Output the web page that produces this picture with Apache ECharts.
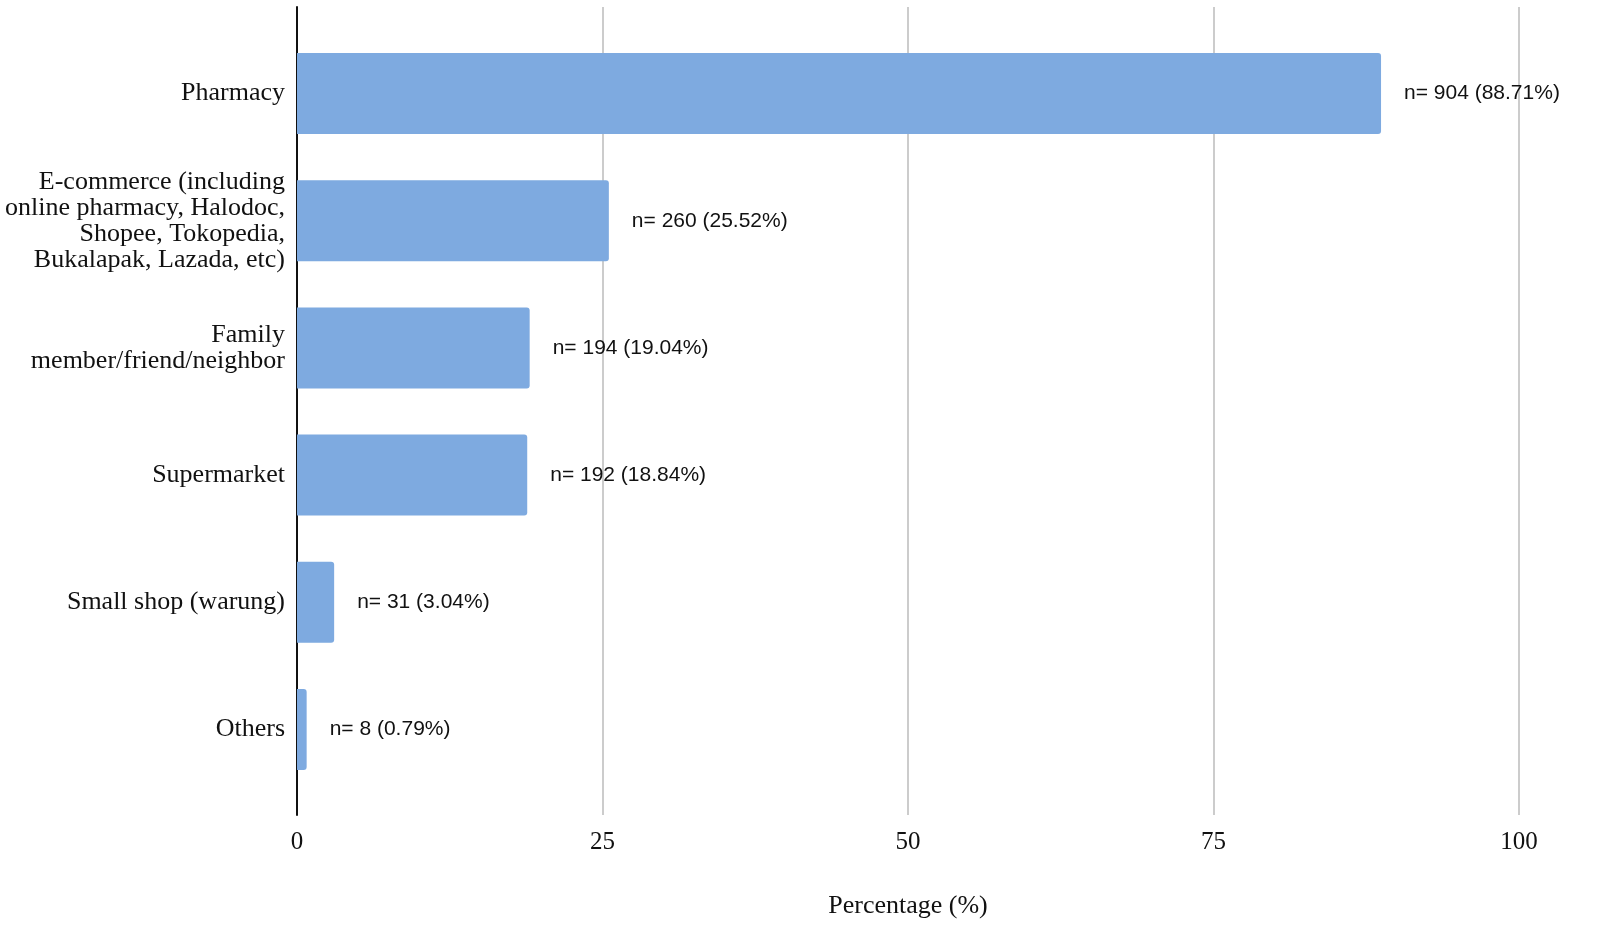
<!DOCTYPE html>
<html>
<head>
<meta charset="utf-8">
<script src="https://cdn.jsdelivr.net/npm/echarts@6/dist/echarts.min.js"></script>
<style>html,body{margin:0;padding:0;background:#fff;}#c{width:1600px;height:943px;}</style>
</head>
<body>
<div id="c"></div>
<script>
const categories = [
  "Pharmacy",
  "E-commerce (including\nonline pharmacy, Halodoc,\nShopee, Tokopedia,\nBukalapak, Lazada, etc)",
  "Family\nmember/friend/neighbor",
  "Supermarket",
  "Small shop (warung)",
  "Others"
];
const counts = [904, 260, 194, 192, 31, 8];
const percentages = [88.71, 25.52, 19.04, 18.84, 3.04, 0.79];
const xTicks = [0, 25, 50, 75, 100];

const chart = echarts.init(document.getElementById('c'), null, {renderer: 'canvas'});
const serif = '"Liberation Serif", "DejaVu Serif", serif';
const sans = '"Liberation Sans", Arial, sans-serif';

chart.setOption({
  animation: false,
  backgroundColor: '#ffffff',
  grid: [
    {left: 297, right: 81, top: 7, bottom: 128},
    {left: 297, right: 81, top: 30, bottom: 150}
  ],
  xAxis: [
    {
      type: 'value', gridIndex: 0,
      min: xTicks[0], max: xTicks[xTicks.length - 1], interval: 25,
      axisLine: {show: false}, axisTick: {show: false},
      splitLine: {show: true, lineStyle: {color: '#cccccc', width: 2}},
      axisLabel: {fontFamily: serif, fontSize: 25, color: '#111', margin: 15},
      name: 'Percentage (%)', nameLocation: 'middle', nameGap: 78,
      nameTextStyle: {fontFamily: serif, fontSize: 26, color: '#111'}
    },
    {
      type: 'value', gridIndex: 1, min: 0, max: 100,
      show: false
    }
  ],
  yAxis: [
    {
      type: 'value', gridIndex: 0, min: 0, max: 1,
      axisLine: {show: true, lineStyle: {color: '#111', width: 2}},
      axisTick: {show: false}, axisLabel: {show: false}, splitLine: {show: false}
    },
    {
      type: 'category', gridIndex: 1, data: categories, inverse: true,
      axisLine: {show: false}, axisTick: {show: false}, splitLine: {show: false},
      axisLabel: {
        fontFamily: serif, fontSize: 26, color: '#111', margin: 12,
        lineHeight: 26, align: 'right'
      }
    }
  ],
  series: [{
    type: 'bar', xAxisIndex: 1, yAxisIndex: 1,
    data: percentages,
    barWidth: 81,
    itemStyle: {color: '#7eaae0', borderRadius: [0, 3, 3, 0]},
    label: {
      show: true, position: 'right', distance: 23,
      fontFamily: sans, fontSize: 21, color: '#111',
      formatter: p => 'n= ' + counts[p.dataIndex] + ' (' + percentages[p.dataIndex].toFixed(2) + '%)'
    }
  }]
});
</script>
</body>
</html>
